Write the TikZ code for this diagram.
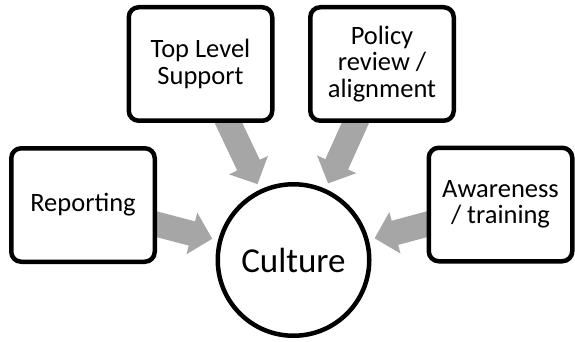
\documentclass[tikz,border=0pt]{standalone}
\usepackage{fontspec}
\setmainfont{Carlito}
\usetikzlibrary{calc,backgrounds}
\definecolor{arrowgray}{HTML}{A6A6A6}
\tikzset{
  item/.style={draw=black, line width=4.5pt, rounded corners=10pt, fill=white,
    minimum width=143.5pt, minimum height=113.5pt, inner sep=0pt, align=center,
    font=\fontsize{26.5}{26.5}\selectfont},
  hub/.style={circle, draw=black, line width=4.5pt, fill=white,
    minimum size=151.5pt, inner sep=0pt, font=\fontsize{35}{40}\selectfont},
  feed/.style={fill=arrowgray, draw=none}
}
% block arrow from the centre of box #1 towards the hub #2
\newcommand\feedarrow[2]{%
  \coordinate (t) at ($(#2.center)!84pt!(#1.center)$);
  \coordinate (h) at ($(#2.center)!105pt!(#1.center)$);
  \fill[feed] ($(#1.center)!12.5pt!90:(t)$) -- ($(h)!12.5pt!90:(t)$)
    -- ($(h)!21.5pt!90:(t)$) -- (t) -- ($(h)!21.5pt!-90:(t)$)
    -- ($(h)!12.5pt!-90:(t)$) -- ($(#1.center)!12.5pt!-90:(t)$) -- cycle;
}
\begin{document}
\begin{tikzpicture}[x=1pt,y=-1pt]
  \useasboundingbox (0,0) rectangle (575,342);
  \node[hub] (culture) at (293.5,260) {Culture};
  \node[item] (report) at (83,205) {Reporting};
  \node[item] (top) at (200.5,64) {Top Level\\Support};
  \node[item] (policy) at (382,64) {Policy\\review /\\alignment};
  \node[item] (aware) at (500.5,204.5) {Awareness\\/ training};
  \begin{scope}[on background layer]
    \feedarrow{report}{culture}
    \feedarrow{top}{culture}
    \feedarrow{policy}{culture}
    \feedarrow{aware}{culture}
  \end{scope}
\end{tikzpicture}
\end{document}
